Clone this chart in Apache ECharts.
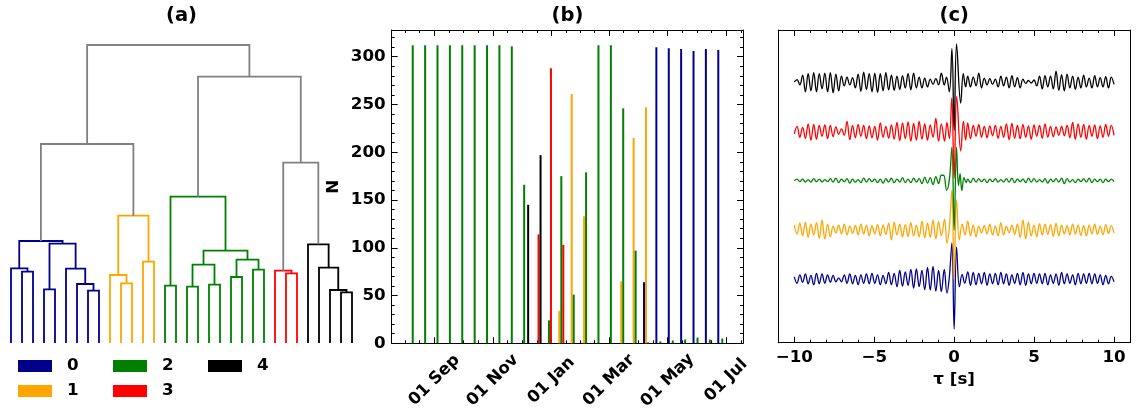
<!DOCTYPE html>
<html>
<head>
<meta charset="utf-8">
<script src="https://cdn.jsdelivr.net/npm/echarts@6.0.0/dist/echarts.min.js"></script>
<style>
html, body { margin: 0; padding: 0; background: #fff; }
#container { width: 1136px; height: 414px; }
</style>
</head>
<body>
<div id="container"></div>
<script>
var dom = document.getElementById("container");
var myChart = echarts.init(dom);

// clusters
var clusterNames = ["0", "1", "2", "3", "4"];
var clusterColors = ["#00008b", "#ffa500", "#008000", "#ff0000", "#000000"];

// ---------- (a) dendrogram ----------
// cluster of each leaf, left to right
var leafCluster = [0,0,0,0,0,0,0,0,0, 1,1,1,1,1, 2,2,2,2,2,2,2,2,2,2, 3,3,3, 4,4,4,4,4];
// [name, left child, right child, height]  (numbers = leaf index)
var merges = [
  ["A", 1, 2, 7.13], ["B", 0, "A", 7.47], ["C", 3, 4, 5.37], ["D", 7, 8, 5.23],
  ["E", 6, "D", 5.9], ["F", 5, "E", 7.43], ["G", "C", "F", 9.93], ["H", "B", "G", 10.2],
  ["I", 10, 11, 5.97], ["J", 9, "I", 6.8], ["K", 12, 13, 8.13], ["L", "J", "K", 12.73],
  ["M", "H", "L", 19.9],
  ["N1", 14, 15, 5.73], ["N2", 16, 17, 5.63], ["N3", 18, 19, 5.83], ["N4", "N2", "N3", 7.83],
  ["N5", 20, 21, 6.6], ["N6", 22, 23, 7.33], ["N7", "N5", "N6", 8.33], ["N8", "N4", "N7", 9.23],
  ["N9", "N1", "N8", 14.63],
  ["R1", 25, 26, 6.97], ["R2", 24, "R1", 7.23],
  ["K1", 30, 31, 5.07], ["K2", 29, "K1", 5.3], ["K3", 28, "K2", 7.53], ["K4", 27, "K3", 9.87],
  ["S", "R2", "K4", 18.03], ["T", "N9", "S", 26.63], ["U", "M", "T", 29.8]
];

// ---------- (b) histogram ----------
var binDates = [
  "2019-08-09T12:00", "2019-08-22T10:00", "2019-09-04T07:00", "2019-09-17T05:00",
  "2019-09-30T02:00", "2019-10-13T00:00", "2019-10-25T22:00", "2019-11-07T19:00",
  "2019-11-20T17:00", "2019-12-03T14:00", "2019-12-16T12:00", "2019-12-29T10:00",
  "2020-01-11T07:00", "2020-01-24T05:00", "2020-02-06T02:00", "2020-02-19T00:00",
  "2020-03-02T22:00", "2020-03-15T19:00", "2020-03-28T17:00", "2020-04-10T14:00",
  "2020-04-23T12:00", "2020-05-06T10:00", "2020-05-19T07:00", "2020-06-01T05:00",
  "2020-06-14T02:00", "2020-06-27T00:00"
];
var count0 = [0,0,0,0,0,0,0,0,0,0,0,0,0,0,0,0,0,0,0,64,310,309,308,306,308,307];
var count1 = [0,0,0,0,0,0,0,0,0,0,0,0,34,261,133,0,0,65,215,247,0,0,0,0,0,0];
var count2 = [312,312,312,312,312,312,312,312,311,166,0,24,175,51,179,312,312,246,97,1,2,3,4,6,4,5];
var count3 = [0,0,0,0,0,0,0,0,0,0,114,288,103,0,0,0,0,0,0,0,0,0,0,0,0,0];
var count4 = [0,0,0,0,0,0,0,0,0,145,197,0,0,0,0,0,0,0,0,0,0,0,0,0,0,0];
var xRange = ["2019-07-18T14:00", "2020-07-18T14:00"];
var majorDates = ["2019-09-01T00:00", "2019-11-01T00:00", "2020-01-01T00:00",
                  "2020-03-01T00:00", "2020-05-01T00:00", "2020-07-01T00:00"];
var majorLabels = ["01 Sep", "01 Nov", "01 Jan", "01 Mar", "01 May", "01 Jul"];
var nTicks = [0, 50, 100, 150, 200, 250, 300];
var nMax = 328;

// ---------- (c) stacked waveforms (values in hundredths) ----------
var tauTicks = [-10, -5, 0, 5, 10];
var tauLeft = [-10, -0.8];
var tauRight = [0.85, 10];
var traceOffset = [0, 1, 2, 3, 4];

var wave0L = [5,-8,9,-6,11,-9,8,-11,12,-9,11,-8,9,-6,8,-5,3,-5,9,-8,11,-9,8,-11,9,-8,11,-9,12,-8,9,-11,8,-9,14,-11,12,-15,18,-14,15,-12,20,-18,21,-15,18,-21,24,-22,26,-24,18,-25];
var wave0C = [[-0.62,20],[-0.45,-28],[-0.3,5],[-0.14,74],[0,-101],[0.15,65],[0.33,-15],[0.5,10],[0.66,-8]];
var wave0R = [15,-12,14,-11,12,-9,14,-12,11,-9,12,-11,14,-9,11,-12,9,-8,12,-11,14,-12,11,-9,12,-8,11,-9,12,-11,9,-8,11,-12,14,-9,11,-8,9,-11,12,-9,11,-8,12,-9,11,-8,9,-11,8,-9,6,-5];

var wave1L = [10,-8,14,-12,16,-15,12,-10,15,-17,20,-18,12,-14,8,-6,10,-8,12,-10,8,-7,9,-10,12,-8,10,-12,9,-8,11,-12,10,-9,14,-20,16,-10,12,-14,11,-13,15,-12,10,-14,18,-16,14,-15,20,-18,17,-12];
var wave1C = [[-0.6,22],[-0.45,-27],[-0.3,5],[-0.14,81],[0,-100],[0.15,61],[0.32,-20],[0.5,12],[0.68,-10]];
var wave1R = [18,-12,10,-14,8,-6,9,-8,12,-10,8,-12,15,-10,8,-6,10,-9,12,-15,20,-18,16,-12,10,-14,13,-10,12,-9,11,-13,14,-12,10,-8,9,-10,12,-8,10,-11,9,-12,10,-8,12,-9,8,-10,11,-7,9,-6];

var wave2L = [0,3,-2,3,-3,2,-3,4,-2,3,-3,2,-2,4,-3,5,-4,3,-2,4,-5,3,-3,2,-4,5,-3,4,-2,3,-4,3,-5,4,-3,5,-4,3,-3,6,-4,3,-4,5,-3,4,-6,7,-5,6,-8,8,-6,11];
var wave2C = [[-0.66,11],[-0.47,-19],[-0.3,2],[-0.14,68],[0,-100],[0.15,68],[0.27,-10],[0.37,14],[0.48,-20],[0.62,6],[0.75,-4]];
var wave2R = [3,-4,5,-3,4,-2,3,-4,3,-2,4,-3,2,-3,4,-3,5,-4,3,-2,3,-4,5,-3,4,-3,2,-3,4,-5,3,-2,4,-3,5,-6,4,-3,2,-4,3,-2,4,-3,5,-4,3,-2,3,-4,3,-2,3,-2];

var wave3L = [-5,10,-12,8,-14,15,-18,14,-16,12,-10,13,-15,12,-11,9,-6,5,-8,20,-17,12,-13,14,-10,12,-15,11,-13,10,-18,17,-12,10,-14,13,-16,18,-19,17,-15,19,-20,16,-18,20,-16,15,-18,13,-12,26,-20,15];
var wave3C = [[-0.6,-20],[-0.45,18],[-0.3,-15],[-0.15,68],[0,-95],[0.16,71],[0.41,-40],[0.58,20],[0.72,-18]];
var wave3R = [17,-15,12,-10,14,-12,10,-13,11,-9,12,-14,10,-12,15,-17,16,-14,12,-15,14,-12,11,-16,13,-10,12,-14,15,-12,10,-11,9,-8,10,-9,12,-13,18,-16,15,-12,14,-16,12,-10,13,-15,11,-12,14,-10,12,-8];

var wave4L = [0,5,-6,14,-20,17,-18,19,-20,17,-14,18,-20,19,-22,16,-18,12,-8,10,-6,9,-12,16,-19,20,-15,17,-20,18,-21,17,-18,19,-16,14,-17,12,-15,13,-12,17,-16,18,-12,10,-12,8,-10,6,-5,7,-6,18];
var wave4C = [[-0.62,-6],[-0.48,10],[-0.3,-20],[-0.14,68],[0,-98],[0.15,77],[0.41,-43],[0.57,17],[0.72,-10]];
var wave4R = [12,-10,10,-8,18,-12,8,-6,7,-5,6,-10,12,-8,10,-12,13,-10,9,-12,6,-3,3,-2,4,-8,12,-14,13,-10,12,-14,22,-17,15,-18,16,-12,12,-15,10,-12,14,-10,8,-12,13,-10,9,-10,11,-12,10,-5];

var tauRange = [-11, 11];
var ampRange = [-1.285, 5.054];

// ================= build =================
var FONT = "DejaVu Sans";
var txt = { color: "#000", fontFamily: FONT, fontWeight: "bold", fontSize: 16.7 };
function tm(s) { return new Date(s).getTime(); }

// dendrogram links
var nodes = {};
leafCluster.forEach(function (c, i) { nodes[i] = { x: 5 + 10 * i, h: 0, c: c }; });
var dendroLinks = [];
merges.forEach(function (m) {
  var a = nodes[m[1]], b = nodes[m[2]];
  var c = a.c === b.c ? a.c : -1;
  nodes[m[0]] = { x: (a.x + b.x) / 2, h: m[3], c: c };
  dendroLinks.push({
    coords: [[a.x, a.h], [a.x, m[3]], [b.x, m[3]], [b.x, b.h]],
    lineStyle: { color: c >= 0 ? clusterColors[c] : "#808080" }
  });
});

// date ticks (x in ms on a value axis)
var majorT = majorDates.map(tm);
var tMin = tm(xRange[0]), tMax = tm(xRange[1]);
var minorT = [];
for (var i = 0; i < majorT.length - 1; i++) {
  var st = (majorT[i + 1] - majorT[i]) / 4;
  for (var k = 1; k < 4; k++) minorT.push(majorT[i] + k * st);
}
var s0 = (majorT[1] - majorT[0]) / 4, s1 = (majorT[5] - majorT[4]) / 4;
for (var k = 1; k < 4; k++) { minorT.push(majorT[0] - k * s0); minorT.push(majorT[5] + k * s1); }
minorT = minorT.filter(function (v) { return v > tMin && v < tMax; });
function dateLabel(v) {
  for (var i = 0; i < majorT.length; i++) if (Math.abs(majorT[i] - v) < 3600e3) return majorLabels[i];
  return "";
}
var nMinor = [];
for (var v = 0; v <= nMax; v += 10) nMinor.push(v);
var tauMinor = [];
for (var v = -10; v <= 10; v++) tauMinor.push(v);

var counts = [count0, count1, count2, count3, count4];
var binT = binDates.map(tm);

var waves = [[wave0L, wave0C, wave0R], [wave1L, wave1C, wave1R], [wave2L, wave2C, wave2R],
             [wave3L, wave3C, wave3R], [wave4L, wave4C, wave4R]];
function buildTrace(w, off) {
  var pts = [];
  var L = w[0], C = w[1], R = w[2];
  L.forEach(function (v, i) {
    pts.push([tauLeft[0] + i * (tauLeft[1] - tauLeft[0]) / (L.length - 1), v / 100 + off]);
  });
  C.forEach(function (p) { pts.push([p[0], p[1] / 100 + off]); });
  R.forEach(function (v, i) {
    pts.push([tauRight[0] + i * (tauRight[1] - tauRight[0]) / (R.length - 1), v / 100 + off]);
  });
  return pts;
}

var black = { color: "#000", width: 1 };
function tickAxis(base, values, len, labels) {
  var o = Object.assign({
    splitLine: { show: false },
    axisLine: { show: !!labels || !!base.frame, onZero: false, lineStyle: black },
    axisTick: { show: true, inside: true, length: len, customValues: values, lineStyle: black },
    axisLabel: { show: false }
  }, base);
  delete o.frame;
  if (labels) o.axisLabel = Object.assign({ show: true, customValues: values, margin: 6 }, txt, labels);
  return o;
}

var bGridX = { gridIndex: 1, type: "value", scale: true, min: tMin, max: tMax };
var bGridY = { gridIndex: 1, type: "value", min: 0, max: nMax };
var cGridX = { gridIndex: 2, type: "value", min: tauRange[0], max: tauRange[1] };
var cGridY = { gridIndex: 2, type: "value", min: ampRange[0], max: ampRange[1] };

var xAxes = [
  { gridIndex: 0, type: "value", min: 0, max: 320, show: false },
  tickAxis(Object.assign({ position: "bottom" }, bGridX), majorT, 6,
    { formatter: dateLabel, rotate: 45, align: "center", verticalAlign: "middle", margin: 37 }),
  tickAxis(Object.assign({ position: "bottom" }, bGridX), minorT, 3),
  tickAxis(Object.assign({ position: "top", frame: true }, bGridX), majorT, 6),
  tickAxis(Object.assign({ position: "top" }, bGridX), minorT, 3),
  Object.assign(tickAxis(Object.assign({ position: "bottom" }, cGridX), tauTicks, 6,
    { formatter: function (v) { return String(v).replace("-", "\u2212"); } }),
    { name: "\u03c4 [s]", nameLocation: "middle", nameGap: 28, nameTextStyle: txt }),
  tickAxis(Object.assign({ position: "bottom" }, cGridX), tauMinor, 3),
  tickAxis(Object.assign({ position: "top", frame: true }, cGridX), tauTicks, 6),
  tickAxis(Object.assign({ position: "top" }, cGridX), tauMinor, 3)
];

var yAxes = [
  { gridIndex: 0, type: "value", min: 0, max: 29.8, show: false },
  Object.assign(tickAxis(Object.assign({ position: "left" }, bGridY), nTicks, 6, {}),
    { name: "N", nameLocation: "middle", nameGap: 50, nameTextStyle: txt }),
  tickAxis(Object.assign({ position: "left" }, bGridY), nMinor, 3),
  tickAxis(Object.assign({ position: "right", frame: true }, bGridY), nTicks, 6),
  tickAxis(Object.assign({ position: "right" }, bGridY), nMinor, 3),
  Object.assign({ position: "left", splitLine: { show: false }, axisLine: { show: true, onZero: false, lineStyle: black },
    axisTick: { show: false }, axisLabel: { show: false } }, cGridY),
  Object.assign({ position: "right", splitLine: { show: false }, axisLine: { show: true, onZero: false, lineStyle: black },
    axisTick: { show: false }, axisLabel: { show: false } }, cGridY)
];

var series = [{
  type: "lines", coordinateSystem: "cartesian2d", xAxisIndex: 0, yAxisIndex: 0,
  polyline: true, silent: true, data: dendroLinks,
  lineStyle: { width: 1.8, opacity: 1 }
}];
clusterNames.forEach(function (name, c) {
  series.push({
    name: name, type: "bar", xAxisIndex: 1, yAxisIndex: 1,
    barWidth: 2, barGap: "0%",
    itemStyle: { color: clusterColors[c] },
    data: binT.map(function (t, k) { return [t, counts[c][k]]; })
  });
});
waves.forEach(function (w, c) {
  series.push({
    name: "trace" + c, type: "line", xAxisIndex: 5, yAxisIndex: 5,
    showSymbol: false, smooth: 0.4, z: 3,
    lineStyle: { color: clusterColors[c], width: 1.3 },
    data: buildTrace(w, traceOffset[c])
  });
});

var legendPos = [[18, 356], [18, 381], [113, 356], [113, 381], [208, 356]];
var legends = clusterNames.map(function (name, c) {
  return {
    data: [{ name: name, icon: "rect" }], left: legendPos[c][0], top: legendPos[c][1],
    padding: 0, itemWidth: 34, itemHeight: 12, selectedMode: false,
    textStyle: Object.assign({ padding: [0, 0, 0, 10], lineHeight: 20 }, txt)
  };
});

function titleText(x, s) {
  return { type: "text", x: x, y: 15.5,
    style: { text: s, align: "center", verticalAlign: "middle",
      fill: "#000", font: "bold 19.5px " + FONT } };
}

var option = {
  animation: false,
  backgroundColor: "#fff",
  graphic: [titleText(181.5, "(a)"), titleText(567.4, "(b)"), titleText(954.2, "(c)")],
  legend: legends,
  grid: [
    { left: 5.5, top: 45, width: 352, height: 298 },
    { left: 391.7, top: 30, width: 351.3, height: 313.3 },
    { left: 778.3, top: 30, width: 351.7, height: 312.7 }
  ],
  xAxis: xAxes,
  yAxis: yAxes,
  series: series
};

myChart.setOption(option);
</script>
</body>
</html>
